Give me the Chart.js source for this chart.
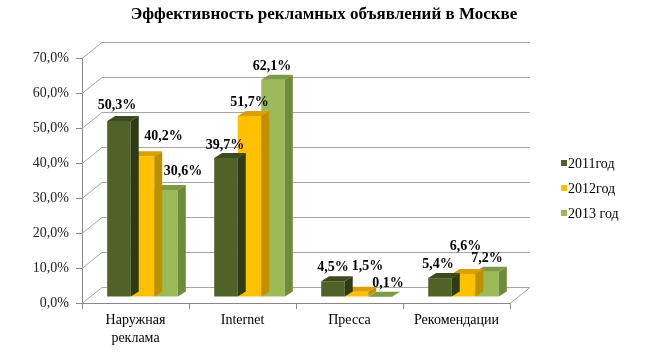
<!DOCTYPE html>
<html><head><meta charset="utf-8">
<script src="https://cdn.jsdelivr.net/npm/chart.js@4/dist/chart.umd.min.js"></script>
<style>html,body{margin:0;padding:0;background:#fff}#wrap{width:652px;height:359px;position:relative}</style>
</head><body><div id="wrap"><canvas id="c"></canvas></div>
<script>
// ---- data ----
const chartTitle = 'Эффективность рекламных объявлений в Москве';
const categories = [['Наружная','реклама'], 'Internet', 'Пресса', 'Рекомендации'];
const seriesNames = ['2011год', '2012год', '2013 год'];
const values2011 = [50.3, 39.7, 4.5, 5.4];
const values2012 = [40.2, 51.7, 1.5, 6.6];
const values2013 = [30.6, 62.1, 0.1, 7.2];
const yTickValues = [0, 10, 20, 30, 40, 50, 60, 70];

// ---- styles ----
const colors = [
  {front:'#4F6228', top:'#3c4a1e', side:'#2f3a17'},
  {front:'#FFC000', top:'#d9a000', side:'#c09000'},
  {front:'#9BBB59', top:'#7e9a44', side:'#6f8a3a'}
];
const labelOffsets = [
  [[-2,-2],[-1,1],[0,0],[-2,0]],
  [[21,-6],[0,0],[11,-11],[2,-14]],
  [[17,-5],[-1,1],[8,1],[0,1]]
];
const WALL = {dx:20, dy:-16};
const SHIFT = {dx:7, dy:-6};
const DEPTH = {dx:8, dy:-5};
const FONT = "'Liberation Serif', 'Times New Roman', serif";
const fmt = v => v.toFixed(1).replace('.', ',') + '%';

Chart.defaults.font.family = FONT;

const p3d = {
  id: 'p3d',
  beforeDatasetsDraw(chart) {
    const {ctx, chartArea: a, scales: {y}} = chart;
    ctx.save();
    ctx.strokeStyle = '#a6a6a6'; ctx.lineWidth = 1;
    ctx.beginPath();
    y.ticks.forEach(t => {
      const py = Math.round(y.getPixelForValue(t.value)) + 0.5;
      ctx.moveTo(a.left, py);
      ctx.lineTo(a.left + WALL.dx, py + WALL.dy);
      ctx.lineTo(a.right + WALL.dx, py + WALL.dy);
    });
    const b = Math.round(a.bottom) + 0.5;
    ctx.moveTo(a.right, b); ctx.lineTo(a.right + WALL.dx, b + WALL.dy);
    ctx.stroke();
    ctx.restore();
    ctx.save();
    ctx.translate(SHIFT.dx, SHIFT.dy);
  },
  afterDatasetDraw(chart, args) {
    const ctx = chart.ctx, i = args.index, col = colors[i];
    chart.getDatasetMeta(i).data.forEach(bar => {
      const l = bar.x - bar.width / 2, r = bar.x + bar.width / 2, t = bar.y, b = bar.base;
      ctx.fillStyle = col.top;
      ctx.beginPath();
      ctx.moveTo(l, t); ctx.lineTo(l + DEPTH.dx, t + DEPTH.dy);
      ctx.lineTo(r + DEPTH.dx, t + DEPTH.dy); ctx.lineTo(r, t);
      ctx.closePath(); ctx.fill();
      ctx.fillStyle = col.side;
      ctx.beginPath();
      ctx.moveTo(r, t); ctx.lineTo(r + DEPTH.dx, t + DEPTH.dy);
      ctx.lineTo(r + DEPTH.dx, b + DEPTH.dy); ctx.lineTo(r, b);
      ctx.closePath(); ctx.fill();
    });
  },
  afterDatasetsDraw(chart) {
    const ctx = chart.ctx;
    ctx.font = 'bold 14px ' + FONT;
    ctx.fillStyle = '#000';
    ctx.textAlign = 'center'; ctx.textBaseline = 'middle';
    chart.data.datasets.forEach((ds, i) => {
      chart.getDatasetMeta(i).data.forEach((bar, j) => {
        const o = labelOffsets[i][j];
        ctx.fillText(fmt(ds.data[j]), bar.x + o[0], bar.y - 14 + o[1]);
      });
    });
    ctx.restore();
  },
  afterDraw(chart) {
    const ctx = chart.ctx;
    ctx.save();
    ctx.font = 'bold 17px ' + FONT;
    ctx.fillStyle = '#000';
    ctx.textAlign = 'center'; ctx.textBaseline = 'middle';
    ctx.fillText(chartTitle, 324, 15);
    ctx.font = '14px ' + FONT;
    ctx.textAlign = 'left';
    chart.data.datasets.forEach((ds, i) => {
      const yy = 163 + i * 25;
      ctx.fillStyle = colors[i].front;
      ctx.fillRect(561, yy - 3, 6, 6);
      ctx.fillStyle = '#000';
      ctx.fillText(ds.label, 568, yy + 1);
    });
    ctx.restore();
  }
};

new Chart(document.getElementById('c'), {
  type: 'bar',
  data: {
    labels: categories,
    datasets: [
      {label: seriesNames[0], data: values2011, backgroundColor: colors[0].front},
      {label: seriesNames[1], data: values2012, backgroundColor: colors[1].front},
      {label: seriesNames[2], data: values2013, backgroundColor: colors[2].front}
    ]
  },
  options: {
    responsive: true, maintainAspectRatio: false, animation: false,
    devicePixelRatio: 1,
    layout: {padding: {top: 58, right: 142, bottom: 0, left: 0}},
    datasets: {bar: {categoryPercentage: 0.66, barPercentage: 1}},
    plugins: {legend: {display: false}, title: {display: false}, tooltip: {enabled: false}},
    scales: {
      x: {
        grid: {drawOnChartArea: false, drawTicks: true, tickLength: 6, color: '#878787', offset: true},
        border: {color: '#878787'},
        ticks: {color: '#000', font: {size: 14, lineHeight: 1.3}, padding: 2, maxRotation: 0},
        afterFit: s => { s.height = 56; }
      },
      y: {
        min: 0, max: 70,
        afterBuildTicks: s => { s.ticks = yTickValues.map(v => ({value: v})); },
        grid: {drawOnChartArea: false, drawTicks: true, tickLength: 6, color: '#878787'},
        border: {color: '#878787'},
        ticks: {color: '#222', font: {size: 14}, padding: 7, callback: v => fmt(v)},
        afterFit: s => { s.width = 82; }
      }
    }
  },
  plugins: [p3d]
});
</script>
</body></html>
